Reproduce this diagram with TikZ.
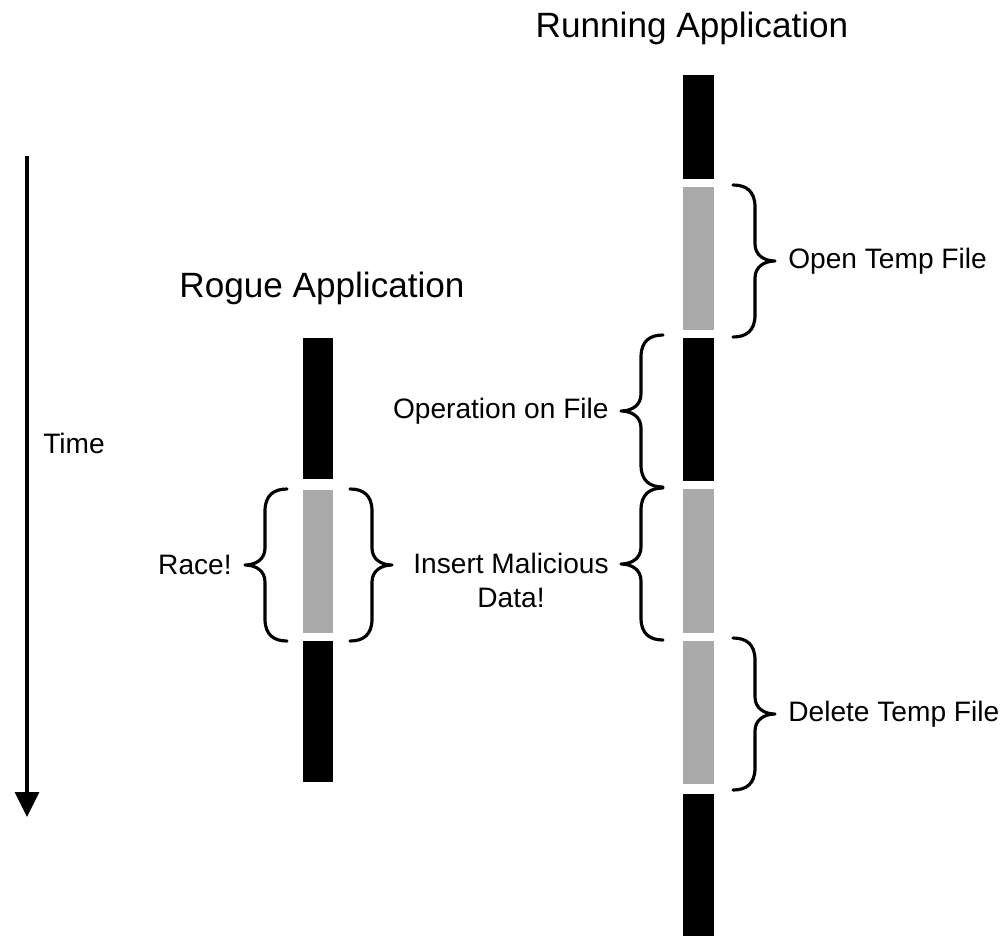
\documentclass[tikz,border=0pt]{standalone}
\usepackage{fontspec}
\setmainfont{Liberation Sans}
\usepackage{tikz}
\usetikzlibrary{arrows.meta,positioning}
\usepackage{xcolor}
\definecolor{segblack}{HTML}{000000}
\definecolor{seggray}{HTML}{AAAAAA}
\def\ttl{\fontsize{20}{24}\selectfont}
\def\lbltxt{\fontsize{16}{19}\selectfont}

\tikzset{
  blk/.style={fill=segblack},
  gry/.style={fill=seggray},
  brc/.style={line width=1.8pt, line cap=round, line join=round},
  lbl/.style={inner sep=0pt, font=\lbltxt, align=center},
  ttlnode/.style={inner sep=0pt, font=\ttl},
  timeline/.style={line width=2pt, -{Triangle[width=0.48cm,length=0.5cm]}},
  curly/.pic={
    \draw[brc] (0,-76) .. controls (13,-76) and (22,-70) .. (22,-54)
      -- (22,-17) .. controls (22,-6) and (31,0) .. (42,0)
      .. controls (31,0) and (22,6) .. (22,17)
      -- (22,54) .. controls (22,70) and (13,76) .. (0,76);
    \coordinate (-tip) at (42,0);
  }
}

\begin{document}
\begin{tikzpicture}[x=0.02cm, y=-0.02cm]
	\useasboundingbox (0,0) rectangle (1006,936);
	% time axis
	\coordinate (t0) at (27,156);
	\coordinate (t1) at (27,817);
	\coordinate (tm) at (27,443);
	\draw[timeline] (t0) -- (t1);
	\node[lbl, right=0.32cm of tm] (time) {Time};
	% running application
	\node[ttlnode] (run) at (692,28) {Running Application};
	\fill[blk] (683,75) rectangle (714,179);
	\fill[gry] (683,187) rectangle (714,330);
	\fill[blk] (683,338) rectangle (714,481);
	\fill[gry] (683,489) rectangle (714,633);
	\fill[gry] (683,641) rectangle (714,784);
	\fill[blk] (683,794) rectangle (714,936);
	% rogue application
	\node[ttlnode] (rog) at (322,288) {Rogue Application};
	\fill[blk] (303,338) rectangle (333,479);
	\fill[gry] (303,490) rectangle (333,633);
	\fill[blk] (303,641) rectangle (333,782);
	% braces
	\pic (ot) at (733,261) {curly};
	\pic (dt) at (733,714) {curly};
	\pic[xscale=-1] (of) at (663,411) {curly};
	\pic[xscale=-1] (im) at (663,564) {curly};
	\pic[xscale=-1] (rc) at (287,565) {curly};
	\pic (rr) at (350,565) {curly};
	% labels
	\node[lbl, right=0.26cm of ot-tip] (open) {Open Temp File};
	\node[lbl, right=0.26cm of dt-tip] (del) {Delete Temp File};
	\node[lbl, left=0.24cm of of-tip] (oper) {Operation on File};
	\node[lbl, left=0.24cm of im-tip, yshift=-0.33cm] (ins) {Insert Malicious\\Data!};
	\node[lbl, left=0.26cm of rc-tip] (race) {Race!};
\end{tikzpicture}
\end{document}
